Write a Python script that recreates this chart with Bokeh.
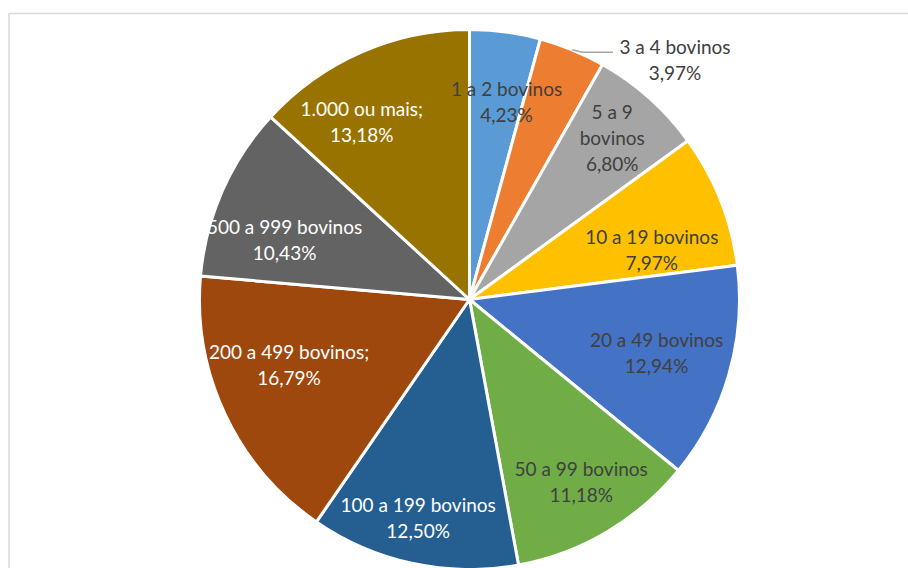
import numpy as np
from bokeh.plotting import figure
from bokeh.models import Range1d, ColumnDataSource
from bokeh.core.properties import value
from bokeh.embed import file_html
from bokeh.resources import INLINE

# ---- data ----
categories = ["1 a 2 bovinos", "3 a 4 bovinos", "5 a 9\nbovinos", "10 a 19 bovinos",
              "20 a 49 bovinos", "50 a 99 bovinos", "100 a 199 bovinos",
              "200 a 499 bovinos;", "500 a 999 bovinos", "1.000 ou mais;"]
shares = [4.23, 3.97, 6.80, 7.97, 12.94, 11.18, 12.50, 16.79, 10.43, 13.18]
pct_labels = ["4,23%", "3,97%", "6,80%", "7,97%", "12,94%", "11,18%", "12,50%",
              "16,79%", "10,43%", "13,18%"]

# ---- styling ----
colors = ["#5B9BD5", "#ED7D31", "#A5A5A5", "#FFC000", "#4472C4", "#70AD47",
          "#255E91", "#9E480E", "#636363", "#997300"]
label_colors = ["#404040"] * 6 + ["#FFFFFF"] * 4
# label placement: (radius fraction, angle nudge in degrees clockwise)
label_place = [(0.745, 3.0), (1.17, 18.2), (0.80, -0.4), (0.70, 6.3), (0.72, -0.2),
               (0.79, -1.0), (0.83, 1.2), (0.71, 5.5), (0.72, -5.8), (0.77, -7.5)]

W, H = 908, 568
cx, cy, R = 469, 269, 270

p = figure(width=W, height=H, output_backend="svg", toolbar_location=None,
           x_range=Range1d(0, W), y_range=Range1d(0, H), min_border=0)
p.axis.visible = False
p.grid.visible = False
p.outline_line_color = None
p.background_fill_color = "white"
p.border_fill_color = "white"

# chart frame
p.line([8.5, 8.5, W + 10], [-10, H - 13, H - 13], line_color="#D9D9D9", line_width=1.5)

vals = np.array(shares)
frac = vals / vals.sum()
cum_end = np.cumsum(frac)
cum_start = cum_end - frac
start_ang = np.pi / 2 - cum_end * 2 * np.pi
end_ang = np.pi / 2 - cum_start * 2 * np.pi

src = ColumnDataSource(dict(x=[cx] * len(vals), y=[cy] * len(vals),
                            s=start_ang, e=end_ang, c=colors))
p.wedge(x="x", y="y", radius=R, start_angle="s", end_angle="e", fill_color="c",
        line_color="white", line_width=3, source=src)

mid_cw = (cum_start + frac / 2) * 360.0
lx, ly, txt = [], [], []
for i in range(len(vals)):
    rf, nud = label_place[i]
    a = np.deg2rad(90 - (mid_cw[i] + nud))
    lx.append(cx + rf * R * np.cos(a))
    ly.append(cy + rf * R * np.sin(a))
    txt.append(categories[i] + "\n" + pct_labels[i])

# leader line for the outside label (3 a 4 bovinos)
a0 = np.deg2rad(90 - mid_cw[1])
sx, sy = cx + R * np.cos(a0), cy + R * np.sin(a0)
p.line([sx, sx + 10, lx[1] - 62], [sy, sy - 2.5, sy - 2.5], line_color="#A6A6A6", line_width=1.5)

p.text(x=lx, y=ly, text=txt, text_align="center", text_baseline="middle",
       text_font=value("Lato"), text_font_size="19px", text_line_height=1.14,
       text_color=label_colors)

open("out.html", "w").write(file_html(p, INLINE))
